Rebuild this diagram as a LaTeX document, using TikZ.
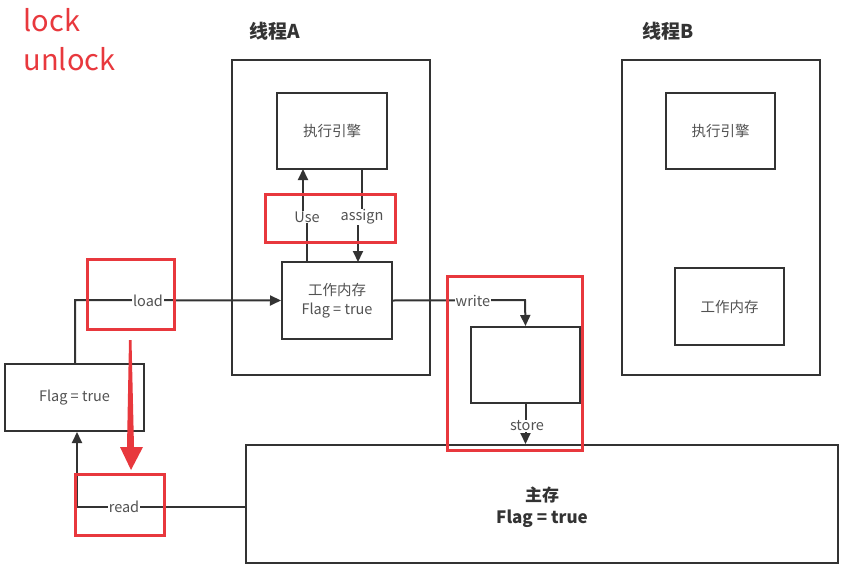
\documentclass[tikz,border=0pt]{standalone}
\usepackage{fontspec}
\setmainfont{Noto Sans CJK SC}
\usetikzlibrary{arrows.meta}
\definecolor{ln}{HTML}{333333}
\definecolor{rd}{HTML}{E8383D}
\begin{document}
\begin{tikzpicture}[x=1pt,y=-1pt,
  box/.style={draw=ln,line width=2pt,fill=white,inner sep=0pt,align=center,font=\fontsize{14.5}{19}\selectfont,text=ln!85},
  redbox/.style={draw=rd,line width=3pt,inner sep=0pt},
  conn/.style={draw=ln,line width=2pt},
  arr/.style={conn,-{Triangle[length=11pt,width=10pt]}},
  lbl/.style={fill=white,inner sep=1pt,font=\fontsize{14.5}{16}\selectfont,text=ln!85},
  title/.style={font=\fontsize{19}{21}\selectfont\bfseries,text=ln}]
\useasboundingbox (0,0) rectangle (841,568);
% red texts
\node[anchor=west,text=rd,font=\fontsize{29}{32}\selectfont] (lock) at (20,20) {lock};
\node[anchor=west,text=rd,font=\fontsize{29}{32}\selectfont] (unlock) at (20,59) {unlock};
% titles
\node[title] (tA) at (275,31) {线程A};
\node[title] (tB) at (668,31) {线程B};
% thread boxes
\node[box,minimum width=198pt,minimum height=315pt] (thA) at (331,217.5) {};
\node[box,minimum width=198pt,minimum height=315pt] (thB) at (721,217.5) {};
% engines and memories
\node[box,minimum width=110pt,minimum height=76pt] (engA) at (332,131) {执行引擎};
\node[box,minimum width=110pt,minimum height=77pt] (wmA) at (337,300.5) {工作内存\\Flag = true};
\node[box,minimum width=109pt,minimum height=76pt] (engB) at (720.5,131) {执行引擎};
\node[box,minimum width=109pt,minimum height=77pt] (wmB) at (729.5,306.5) {工作内存};
\node[box,minimum width=109pt,minimum height=76pt] (mid) at (525.5,365) {};
\node[box,minimum width=139pt,minimum height=67pt] (flag) at (74.5,397.5) {Flag = true};
\node[box,minimum width=592pt,minimum height=118pt] (main) at (542,504) {};
\node[font=\fontsize{17}{22}\selectfont\bfseries,text=ln,align=center] (maintxt) at (542,507) {主存\\Flag = true};
% connectors
\draw[arr] (307,262) -- (307,218) -- (303,218) -- (303,169);
\node[lbl] (use) at (307,217) {Use};
\draw[arr] (362,169) -- (362,218) -- (358,218) -- (358,262);
\node[lbl] (assign) at (362,217) {assign};
\coordinate (ld1) at (75,300);
\draw[arr] (flag.north -| ld1) -- (ld1) -- (wmA.west);
\node[lbl] (load) at (148,301) {load};
\coordinate (rd1) at (77,507);
\draw[arr] (main.west |- rd1) -- (rd1) -- (flag.south -| rd1);
\node[lbl] (read) at (124,507) {read};
\coordinate (wr1) at (525,300);
\draw[arr] (wmA.east) -- (wr1) -- (mid.north);
\node[lbl] (write) at (473,301) {write};
\draw[arr] (mid.south) -- (main.north -| mid.south);
\node[lbl] (store) at (527,426) {store};
% red boxes
\node[redbox,minimum width=130pt,minimum height=48pt] (rUA) at (330,218) {};
\node[redbox,minimum width=87pt,minimum height=70pt] (rLoad) at (130.5,294) {};
\node[redbox,minimum width=89pt,minimum height=61pt] (rRead) at (119.5,504.5) {};
\node[redbox,minimum width=135pt,minimum height=174pt] (rWS) at (514.5,363) {};
% big red arrow
\fill[rd] (129,340) -- (131.5,340) -- (134,447) -- (143,447) -- (131,470) -- (120,447) -- (127,447) -- cycle;
\end{tikzpicture}
\end{document}
